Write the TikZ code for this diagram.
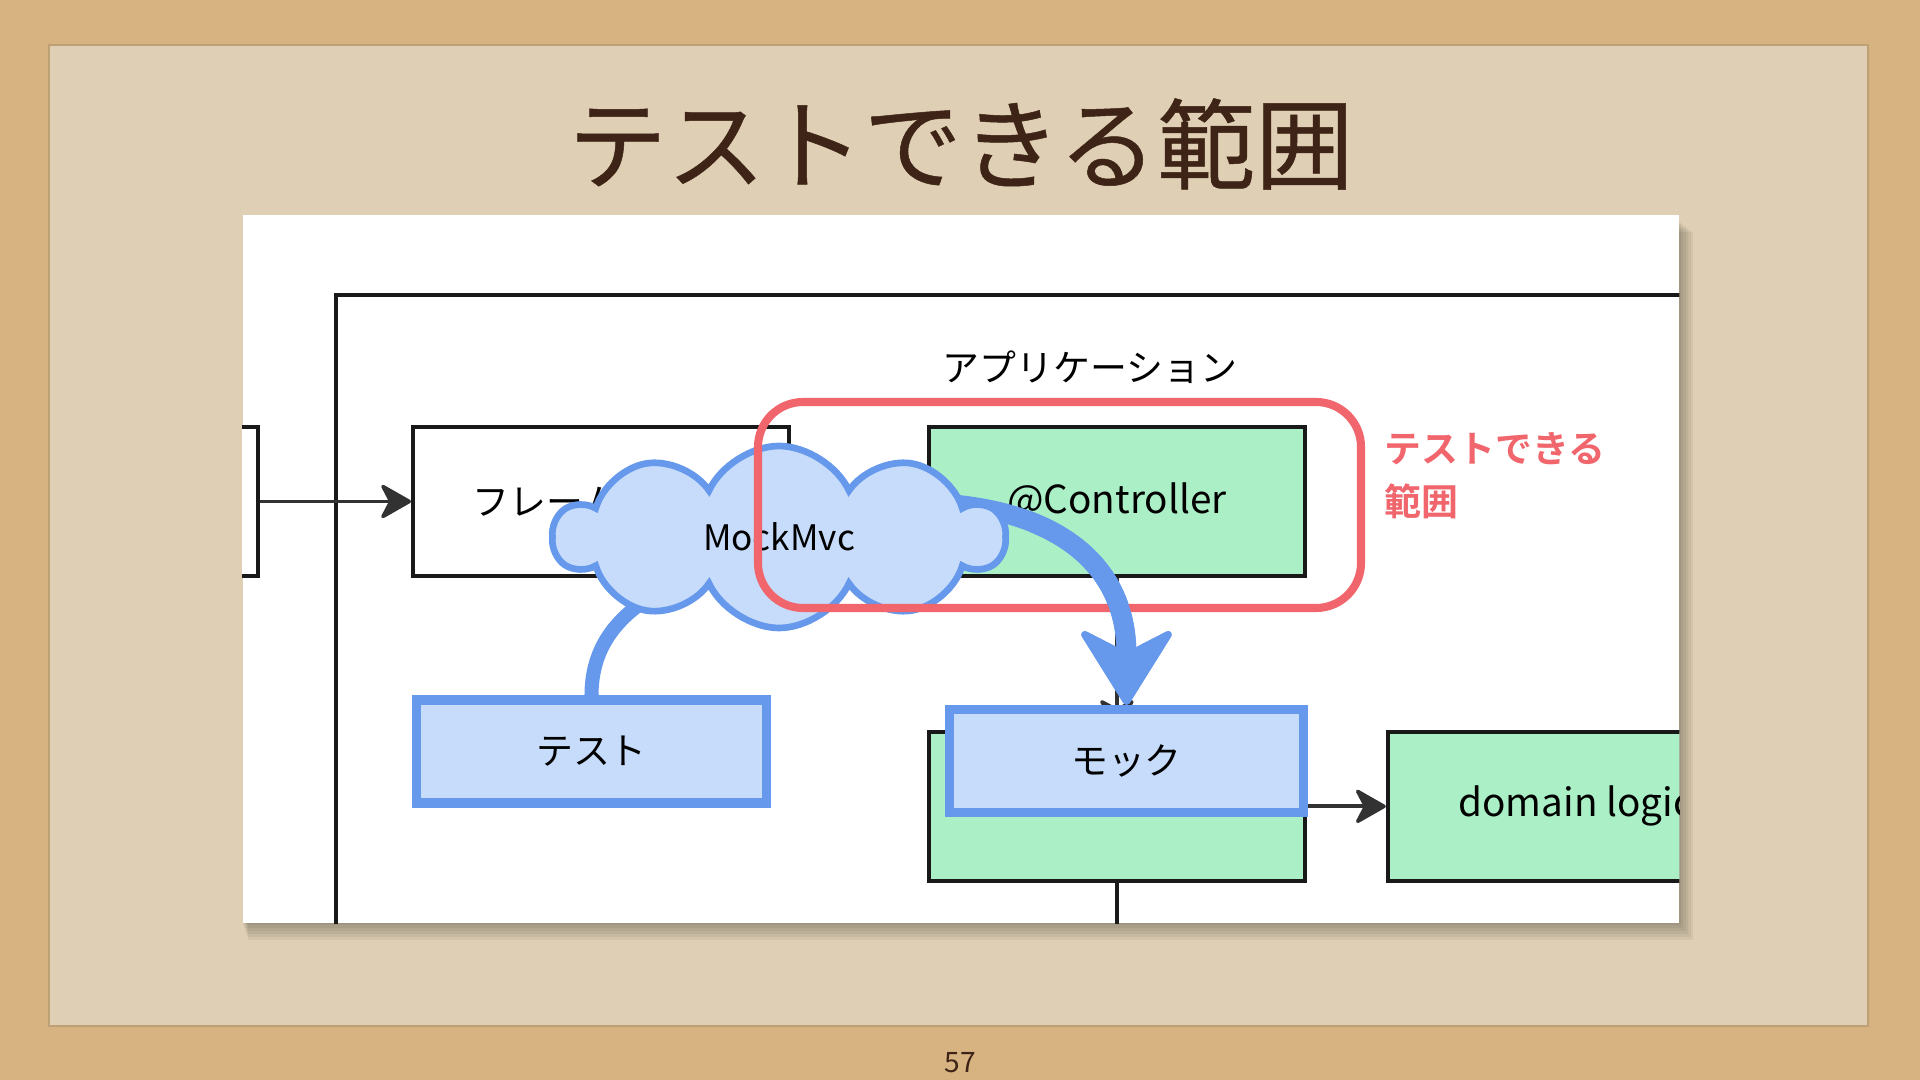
\documentclass[tikz,border=0pt]{standalone}
\usepackage{fontspec}
\setmainfont{Noto Sans CJK JP}[BoldFont={Noto Sans CJK JP Bold}]
\newfontfamily\titlefont{Noto Sans CJK JP}[FakeBold=0.5]
\usepackage{xcolor}
\usetikzlibrary{arrows.meta, positioning, shapes.symbols}

\definecolor{cork}{RGB}{215,179,129}
\definecolor{paper}{RGB}{223,207,180}
\definecolor{paperedge}{RGB}{190,160,118}
\definecolor{titlebrown}{RGB}{62,36,22}
\definecolor{mint}{RGB}{170,239,198}
\definecolor{skyfill}{RGB}{198,220,250}
\definecolor{skyline}{RGB}{102,153,236}
\definecolor{rangered}{RGB}{240,102,108}
\definecolor{inkgray}{RGB}{50,50,50}

\begin{document}
\begin{tikzpicture}[
    >={Stealth[length=3.4mm, width=3.85mm, inset=1mm, round, line width=1pt]},
    plainbox/.style={draw=black!90, line width=1.1pt, fill=white, rectangle, minimum width=3.76cm, minimum height=1.49cm, inner sep=0pt, font=\fontsize{11}{14}\selectfont},
    greenbox/.style={plainbox, fill=mint},
    bluebox/.style={draw=skyline, line width=2.6pt, fill=skyfill, rectangle, minimum width=3.5cm, minimum height=1.03cm, inner sep=0pt, font=\fontsize{10.5}{13}\selectfont},
    cloudbox/.style={draw=skyline, line width=1.9pt, fill=skyfill, cloud, cloud puffs=10, cloud puff arc=130, cloud ignores aspect, minimum width=4.5cm, minimum height=1.82cm, inner sep=0pt, font=\fontsize{10}{12}\selectfont},
    rangebox/.style={draw=rangered, line width=2.3pt, rounded corners=0.45cm, rectangle, minimum width=6.03cm, minimum height=2.06cm, inner sep=0pt},
    rangelabel/.style={text=rangered, font=\bfseries\fontsize{10.5}{15}\selectfont, align=left, inner sep=0pt},
    flow/.style={->, line width=1.1pt, draw=inkgray},
    link/.style={line width=4pt, draw=skyline},
    callarrow/.style={line width=5.6pt, draw=skyline, -{Stealth[length=8.2mm, width=10.2mm, inset=2.6mm, round, line width=2pt]}}
]

% Slide background
\useasboundingbox (0,0) rectangle (19.2,10.8);
\fill[cork] (0,0) rectangle (19.2,10.8);
\fill[paper, draw=paperedge, line width=0.4pt] (0.49,0.54) rectangle (18.68,10.35);

\node[font=\titlefont\fontsize{28}{34}\selectfont, text=titlebrown] (title) at (9.61,9.36) {テストできる範囲};
\node[font=\fontsize{8}{10}\selectfont, text=titlebrown] (pagenum) at (9.60,0.17) {57};

% Screenshot panel with soft shadow
\foreach \i in {1,...,6}
    \fill[black, opacity=0.05] (2.42+0.01*\i,1.58-0.03*\i) rectangle (16.78+0.025*\i,8.6-0.02*\i);
\node[fill=white, minimum width=14.36cm, minimum height=7.08cm, inner sep=0pt, anchor=north west] (panel) at (2.42,8.66) {};

\begin{scope}
\clip (panel.south west) rectangle (panel.north east);

% Application frame
\node[draw=black!90, line width=1.1pt, minimum width=14.66cm, minimum height=6.87cm, inner sep=0pt, anchor=north west] (appframe) at (3.34,7.87) {};
\node[font=\fontsize{10.5}{13}\selectfont] (appname) at (10.90,7.13) {アプリケーション};

% Layers
\node[plainbox, font=\fontsize{10.5}{13}\selectfont] (frame) at (6.01,5.785) {フレームワーク};
\node[plainbox, left=1.51cm of frame] (client) {};
\node[greenbox, right=1.36cm of frame] (ctrl) {@Controller};
\node[greenbox, below=1.52cm of ctrl] (svc) {};
\node[greenbox, right=0.79cm of svc] (domain) {domain logic};
\coordinate[below=1.2cm of svc.south] (svcexit);

\draw[flow] (client) -- (frame);
\draw[flow] (ctrl) -- (svc);
\draw[flow] (svc) -- (domain);
\draw[line width=1.1pt, draw=black!90] (svc.south) -- (svcexit);

% Test harness
\coordinate (cloudc) at (7.79,5.43);
\node[bluebox] (test) at (5.915,3.285) {テスト};
\draw[link] (test.north) to[out=90, in=205] (cloudc);
\node[bluebox, minimum width=3.54cm] (mock) at (11.265,3.19) {モック};

\coordinate (callout) at (9.33,5.77);
\draw[callarrow] (callout) .. controls +(1.17,-0.05) and +(0,1.45) .. (mock.north);

\node[cloudbox] (cloud) at (cloudc) {MockMvc};

\node[rangebox] (range) at (10.595,5.75) {};
\node[rangelabel, anchor=west] (rangetext) at (13.84,6.045) {テストできる\\範囲};

% the call arrow passes over the range frame
\begin{scope}
\clip (10.3,3) rectangle (12.5,6.5);
\draw[callarrow] (callout) .. controls +(1.17,-0.05) and +(0,1.45) .. (mock.north);
\end{scope}
\end{scope}

\end{tikzpicture}
\end{document}
